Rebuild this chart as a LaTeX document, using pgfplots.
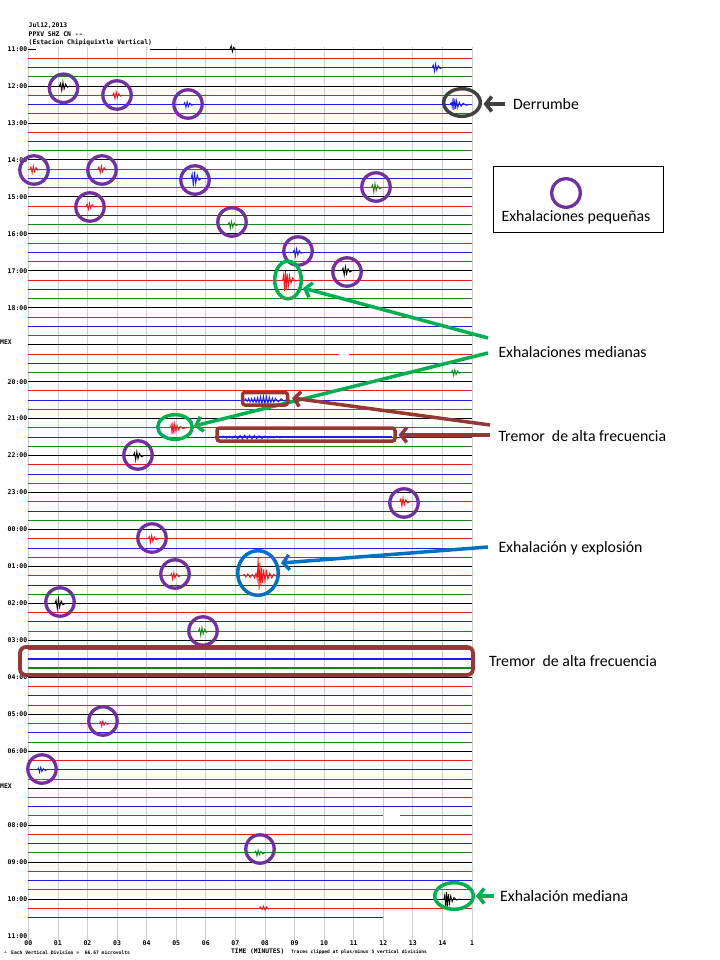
\documentclass[border=0pt]{standalone}
\usepackage{pgfplots}
\pgfplotsset{compat=1.18}
\usepackage{fontspec}
\setmainfont{Carlito}
\newfontfamily\mono{DejaVu Sans Mono}
\usetikzlibrary{arrows.meta}
\definecolor{tred}{RGB}{235,25,25}
\definecolor{tblue}{RGB}{30,30,235}
\definecolor{tgreen}{RGB}{25,130,25}
\definecolor{purp}{RGB}{112,48,160}
\definecolor{ogreen}{RGB}{0,176,80}
\definecolor{oblue}{RGB}{0,112,192}
\definecolor{obrown}{RGB}{149,55,53}
\definecolor{ogray}{RGB}{64,64,64}
\begin{document}
\begin{tikzpicture}
\useasboundingbox (0,0) rectangle (720bp,-960bp);
\begin{axis}[
  at={(28.3bp,-940bp)}, anchor=south west,
  width=443.7bp, height=893bp, scale only axis,
  xmin=0, xmax=15, ymin=-96.43, ymax=0.22,
  axis line style={draw=none},
  major tick length=0pt,
  xtick={0,1,...,15},
  xticklabels={00,01,02,03,04,05,06,07,08,09,10,11,12,13,14,1},
  ytick={0,-4,...,-96},
  yticklabels={11:00,12:00,13:00,14:00,15:00,16:00,17:00,18:00,{},20:00,21:00,22:00,23:00,00:00,01:00,02:00,03:00,04:00,05:00,06:00,{},08:00,09:00,10:00,11:00},
  xmajorgrids, grid style={draw=gray!40, line width=0.7bp},
  ticklabel style={font=\mono\bfseries\fontsize{6.5bp}{7bp}\selectfont},
  xticklabel style={inner sep=0.5bp},
  yticklabel style={inner sep=0.8bp},
  unbounded coords=jump,
  clip=false,
  every axis plot/.append style={line width=0.85bp, mark=none},
]
% ---- base traces ----
\addplot[black] coordinates {(0,0) (0.25,0) (nan,nan) (4.1,0) (15,0) (nan,nan)
(0,-4) (15,-4) (nan,nan) (0,-8) (15,-8) (nan,nan) (0,-12) (15,-12) (nan,nan) (0,-16) (15,-16) (nan,nan)
(0,-20) (15,-20) (nan,nan) (0,-24) (15,-24) (nan,nan) (0,-28) (15,-28) (nan,nan) (0,-32) (15,-32) (nan,nan)
(0,-36) (15,-36) (nan,nan) (0,-40) (15,-40) (nan,nan) (0,-44) (15,-44) (nan,nan) (0,-48) (15,-48) (nan,nan)
(0,-52) (15,-52) (nan,nan) (0,-56) (15,-56) (nan,nan) (0,-60) (15,-60) (nan,nan) (0,-64) (15,-64) (nan,nan)
(0,-68) (15,-68) (nan,nan) (0,-72) (15,-72) (nan,nan) (0,-76) (15,-76) (nan,nan) (0,-80) (15,-80) (nan,nan)
(0,-84) (15,-84) (nan,nan) (0,-88) (15,-88) (nan,nan) (0,-92) (15,-92)};
\addplot[tred] coordinates {(0,-1) (15,-1) (nan,nan) (0,-5) (15,-5) (nan,nan) (0,-9) (15,-9) (nan,nan)
(0,-13) (15,-13) (nan,nan) (0,-17) (15,-17) (nan,nan) (0,-21) (15,-21) (nan,nan) (0,-25) (15,-25) (nan,nan)
(0,-29) (15,-29) (nan,nan) (0,-33) (10.5,-33) (nan,nan) (10.85,-33) (15,-33) (nan,nan) (0,-37) (15,-37) (nan,nan)
(0,-41) (15,-41) (nan,nan) (0,-45) (15,-45) (nan,nan) (0,-49) (15,-49) (nan,nan) (0,-53) (15,-53) (nan,nan)
(0,-57) (15,-57) (nan,nan) (0,-61) (15,-61) (nan,nan) (0,-65) (15,-65) (nan,nan) (0,-69) (15,-69) (nan,nan)
(0,-73) (15,-73) (nan,nan) (0,-77) (15,-77) (nan,nan) (0,-81) (15,-81) (nan,nan) (0,-85) (15,-85) (nan,nan)
(0,-89) (15,-89) (nan,nan) (0,-93) (15,-93)};
\addplot[tblue] coordinates {(0,-2) (15,-2) (nan,nan) (0,-6) (15,-6) (nan,nan) (0,-10) (15,-10) (nan,nan)
(0,-14) (15,-14) (nan,nan) (0,-18) (15,-18) (nan,nan) (0,-22) (15,-22) (nan,nan) (0,-26) (15,-26) (nan,nan)
(0,-30) (15,-30) (nan,nan) (0,-34) (15,-34) (nan,nan) (0,-38) (15,-38) (nan,nan) (0,-42) (15,-42) (nan,nan)
(0,-46) (15,-46) (nan,nan) (0,-50) (15,-50) (nan,nan) (0,-54) (15,-54) (nan,nan) (0,-58) (15,-58) (nan,nan)
(0,-62) (15,-62) (nan,nan) (0,-70) (15,-70) (nan,nan) (0,-74) (15,-74) (nan,nan) (0,-78) (15,-78) (nan,nan)
(0,-82) (15,-82) (nan,nan) (0,-86) (15,-86) (nan,nan) (0,-90) (15,-90) (nan,nan) (0,-94) (12,-94)};
\addplot[tgreen] coordinates {(0,-3) (15,-3) (nan,nan) (0,-7) (15,-7) (nan,nan) (0,-11) (15,-11) (nan,nan)
(0,-15) (15,-15) (nan,nan) (0,-19) (15,-19) (nan,nan) (0,-23) (15,-23) (nan,nan) (0,-27) (15,-27) (nan,nan)
(0,-31) (15,-31) (nan,nan) (0,-35) (15,-35) (nan,nan) (0,-39) (15,-39) (nan,nan) (0,-43) (15,-43) (nan,nan)
(0,-47) (15,-47) (nan,nan) (0,-51) (15,-51) (nan,nan) (0,-55) (15,-55) (nan,nan) (0,-59) (15,-59) (nan,nan)
(0,-63) (15,-63) (nan,nan) (0,-71) (15,-71) (nan,nan) (0,-75) (15,-75) (nan,nan) (0,-79) (15,-79) (nan,nan)
(0,-83) (12,-83) (nan,nan) (12.55,-83) (15,-83) (nan,nan) (0,-87) (15,-87) (nan,nan) (0,-91) (15,-91)};
% tremor traces (thicker)
\addplot[tblue, line width=1.5bp] coordinates {(0,-66) (15,-66)};
\addplot[tgreen, line width=1.6bp] coordinates {(0,-67) (15,-67)};
\addplot[tblue, line width=1.4bp] coordinates {(6.3,-42) (12.3,-42)};
% ---- small exhalations ----
\addplot[black] coordinates {(1.05,-4) (1.09,-3.7) (1.13,-4.5) (1.17,-3.55) (1.21,-4.35) (1.26,-3.78) (1.32,-4.13) (1.40,-4)};
\addplot[tred] coordinates {(2.85,-5) (2.89,-4.76) (2.93,-5.4) (2.97,-4.64) (3.01,-5.28) (3.06,-4.82) (3.12,-5.1) (3.20,-5)};
\addplot[tblue] coordinates {(5.25,-6) (5.29,-5.79) (5.33,-6.35) (5.37,-5.69) (5.41,-6.25) (5.46,-5.84) (5.52,-6.09) (5.60,-6)};
\addplot[tred] coordinates {(0.05,-13) (0.09,-12.76) (0.13,-13.4) (0.17,-12.64) (0.21,-13.28) (0.26,-12.82) (0.32,-13.1) (0.40,-13)};
\addplot[tred] coordinates {(2.35,-13) (2.39,-12.76) (2.43,-13.4) (2.47,-12.64) (2.51,-13.28) (2.56,-12.82) (2.62,-13.1) (2.70,-13)};
\addplot[tblue] coordinates {(5.5,-14) (5.54,-13.49) (5.58,-14.85) (5.62,-13.24) (5.66,-14.6) (5.71,-13.62) (5.77,-14.21) (5.85,-14)};
\addplot[tgreen] coordinates {(11.6,-15) (11.64,-14.7) (11.68,-15.5) (11.72,-14.55) (11.76,-15.35) (11.81,-14.78) (11.87,-15.13) (11.95,-15)};
\addplot[tred] coordinates {(1.95,-17) (1.99,-16.79) (2.03,-17.35) (2.07,-16.69) (2.11,-17.25) (2.16,-16.84) (2.22,-17.09) (2.30,-17)};
\addplot[tgreen] coordinates {(6.75,-19) (6.79,-18.76) (6.83,-19.4) (6.87,-18.64) (6.91,-19.28) (6.96,-18.82) (7.02,-19.1) (7.10,-19)};
\addplot[tblue] coordinates {(8.95,-22) (8.99,-21.73) (9.03,-22.45) (9.07,-21.6) (9.11,-22.32) (9.16,-21.8) (9.22,-22.11) (9.30,-22)};
\addplot[black] coordinates {(10.6,-24) (10.64,-23.7) (10.68,-24.5) (10.72,-23.55) (10.76,-24.35) (10.81,-23.78) (10.87,-24.13) (10.95,-24)};
\addplot[black] coordinates {(3.55,-44) (3.59,-43.7) (3.63,-44.5) (3.67,-43.55) (3.71,-44.35) (3.76,-43.78) (3.82,-44.13) (3.90,-44)};
\addplot[tred] coordinates {(12.55,-49) (12.59,-48.7) (12.63,-49.5) (12.67,-48.55) (12.71,-49.35) (12.76,-48.78) (12.82,-49.13) (12.90,-49)};
\addplot[tred] coordinates {(4.05,-53) (4.09,-52.76) (4.13,-53.4) (4.17,-52.64) (4.21,-53.28) (4.26,-52.82) (4.32,-53.1) (4.40,-53)};
\addplot[tred] coordinates {(4.8,-57) (4.84,-56.76) (4.88,-57.4) (4.92,-56.64) (4.96,-57.28) (5.01,-56.82) (5.07,-57.1) (5.15,-57)};
\addplot[black] coordinates {(0.9,-60) (0.94,-59.64) (0.98,-60.6) (1.02,-59.46) (1.06,-60.42) (1.11,-59.73) (1.17,-60.15) (1.25,-60)};
\addplot[tgreen] coordinates {(5.75,-63) (5.79,-62.7) (5.83,-63.5) (5.87,-62.55) (5.91,-63.35) (5.96,-62.78) (6.02,-63.13) (6.10,-63)};
\addplot[tred] coordinates {(2.4,-73) (2.44,-72.82) (2.48,-73.3) (2.52,-72.73) (2.56,-73.21) (2.61,-72.87) (2.67,-73.08) (2.75,-73)};
\addplot[tblue] coordinates {(0.3,-78) (0.34,-77.82) (0.38,-78.3) (0.42,-77.73) (0.46,-78.21) (0.51,-77.87) (0.57,-78.08) (0.65,-78)};
\addplot[tgreen] coordinates {(7.65,-87) (7.69,-86.79) (7.73,-87.35) (7.77,-86.69) (7.81,-87.25) (7.86,-86.84) (7.92,-87.09) (8.00,-87)};
% other minor signals
\addplot[black] coordinates {(6.82,0) (6.86,0.35) (6.9,-0.3) (6.94,0.2) (6.99,0)};
\addplot[tblue] coordinates {(13.65,-2) (13.69,-1.73) (13.73,-2.45) (13.77,-1.6) (13.81,-2.32) (13.86,-1.8) (13.92,-2.11) (14.0,-2)};
\addplot[tgreen] coordinates {(14.3,-35) (14.34,-34.79) (14.38,-35.35) (14.42,-34.69) (14.46,-35.25) (14.51,-34.84) (14.57,-35.09) (14.65,-35)};
\addplot[tred] coordinates {(7.8,-93) (7.85,-92.85) (7.9,-93.15) (7.95,-92.75) (8.0,-93.2) (8.05,-92.85) (8.12,-93.08) (8.2,-93)};
% ---- medium exhalations ----
\addplot[tred] coordinates {(8.6,-25) (8.63,-24.4) (8.66,-26.2) (8.69,-23.98) (8.72,-26.08) (8.75,-24.28) (8.79,-25.66) (8.83,-24.52) (8.88,-25.36) (8.94,-24.76) (9.02,-25.12) (9.15,-25)};
\addplot[tred] coordinates {(4.8,-41) (4.83,-40.65) (4.86,-41.7) (4.89,-40.41) (4.92,-41.63) (4.95,-40.58) (4.99,-41.39) (5.03,-40.72) (5.08,-41.21) (5.14,-40.86) (5.22,-41.07) (5.35,-41)};
\addplot[black] coordinates {(14.05,-92) (14.08,-91.55) (14.11,-92.9) (14.14,-91.24) (14.17,-92.81) (14.2,-91.46) (14.24,-92.5) (14.28,-91.64) (14.33,-92.27) (14.39,-91.82) (14.47,-92.09) (14.6,-92)};
% ---- exhalation and explosion ----
\addplot[tred] coordinates {(7.25,-57) (7.3,-56.85) (7.35,-57.15) (7.42,-56.8) (7.5,-57.2) (7.58,-56.85) (7.65,-57.25) (7.7,-56.7) (7.74,-57.4) (7.77,-55.0) (7.8,-58.5) (7.83,-55.6) (7.86,-58.1) (7.89,-56.1) (7.92,-57.8) (7.96,-56.3) (8.0,-57.6) (8.05,-56.5) (8.1,-57.4) (8.16,-56.7) (8.23,-57.25) (8.3,-56.85) (8.4,-57.1) (8.5,-57)};
% ---- rockfall ----
\addplot[tblue] coordinates {(14.25,-6) (14.3,-5.8) (14.33,-6.3) (14.36,-5.3) (14.39,-6.6) (14.42,-5.4) (14.45,-6.5) (14.48,-5.6) (14.52,-6.35) (14.57,-5.75) (14.63,-6.2) (14.7,-5.85) (14.8,-6.1) (14.9,-6)};
% ---- high-frequency tremor ----
\addplot[tblue] coordinates {(7.3,-38) (7.35,-37.85) (7.4,-38.15) (7.45,-37.8) (7.5,-38.2) (7.55,-37.8) (7.6,-38.25) (7.65,-37.75) (7.7,-38.3) (7.75,-37.7) (7.8,-38.35) (7.85,-37.6) (7.9,-38.45) (7.95,-37.55) (8.0,-38.45) (8.05,-37.6) (8.1,-38.4) (8.15,-37.65) (8.2,-38.3) (8.25,-37.75) (8.3,-38.25) (8.35,-37.8) (8.45,-38.2) (8.55,-37.85) (8.65,-38.12) (8.75,-37.9) (8.85,-38)};
\addplot[tblue] coordinates {(6.5,-42) (6.6,-41.88) (6.7,-42.12) (6.8,-41.9) (6.9,-42.12) (7.0,-41.85) (7.08,-42.2) (7.16,-41.8) (7.24,-42.22) (7.32,-41.78) (7.4,-42.2) (7.48,-41.8) (7.56,-42.2) (7.64,-41.82) (7.72,-42.18) (7.8,-41.85) (7.9,-42.15) (8.0,-41.88) (8.1,-42.12) (8.2,-41.9) (8.3,-42.1) (8.4,-41.9) (8.5,-42.08) (8.6,-42)};
\end{axis}
% ---------- annotations (pixel coordinates) ----------
\begin{scope}[x=1bp,y=-1bp]
\tikzset{hdr/.style={font=\mono\bfseries\fontsize{6.4bp}{7bp}\selectfont, inner sep=0pt, anchor=west},
 ann/.style={font=\fontsize{15.8bp}{17bp}\selectfont, inner sep=0pt, anchor=west},
 oarr/.style={line width=3.5bp, -{Straight Barb[length=6bp,width=15bp]}}}
\node[hdr] at (28.5,25.5) {Jul12,2013};
\node[hdr] at (28.5,34.2) {PPXV SHZ CN --};
\node[hdr] at (28.5,42.6) {(Estacion Chipiquixtle Vertical)};
\node[hdr] at (0,342.5) {MEX};
\node[hdr] at (0,786.5) {MEX};
\node[font=\mono\bfseries\fontsize{4.8bp}{5bp}\selectfont, inner sep=0pt, anchor=west] at (4,953.5) {\textasciicircum};
\node[font=\mono\bfseries\fontsize{4.7bp}{5bp}\selectfont, inner sep=0pt, anchor=west] at (11,952.5) {Each Vertical Division =\ \ 66.67 microvolts};
\node[font=\mono\bfseries\fontsize{6.3bp}{7bp}\selectfont, inner sep=0pt, anchor=west] at (231,952) {TIME (MINUTES)};
\node[font=\mono\bfseries\fontsize{4.6bp}{5bp}\selectfont, inner sep=0pt, anchor=west] at (291,952.5) {Traces clipped at plus/minus 5 vertical divisions};
% purple circles
\foreach \cx/\cy in {63.5/88.3, 117/95, 188/104, 34/170, 102/170, 195/180, 376/187, 90/207, 232/222, 298/251, 347/272, 138/455, 404/503, 152/538, 175/574, 60/602, 203/631, 103/721, 42/769, 260/849}
  \draw[purp, line width=3.3bp] (\cx,\cy) circle[radius=14.2];
% rockfall
\draw[ogray, line width=3.5bp] (462,102.5) ellipse[x radius=18.3, y radius=13.8];
\draw[ogray, oarr] (505,104) -- (483.5,104);
\node[ann] at (513,104) {Derrumbe};
% legend box
\draw[black, line width=0.8bp] (493,166) rectangle (663,232);
\draw[purp, line width=3.3bp] (566,193) circle[radius=14.3];
\node[ann, anchor=center] at (576,217.7) {Exhalaciones pequeñas};
% green ellipses
\draw[ogreen, line width=3.5bp] (288,280) ellipse[x radius=13.3, y radius=18.8];
\draw[ogreen, line width=3.5bp] (175,427) ellipse[x radius=17.3, y radius=12.3];
\draw[ogreen, line width=3.5bp] (454,896) ellipse[x radius=19.3, y radius=13.3];
\draw[ogreen, oarr] (488,338) -- (303,288);
\draw[ogreen, oarr] (488,353) -- (194,426);
\draw[ogreen, oarr] (494,896) -- (476,896);
\node[ann] at (498.3,351.7) {Exhalaciones medianas};
\node[ann] at (500,896) {Exhalación mediana};
% blue circle
\draw[oblue, line width=3.5bp] (258,573) ellipse[x radius=20.3, y radius=22.3];
\draw[oblue, oarr] (488,547) -- (281,563);
\node[ann] at (498.3,548.3) {Exhalación y explosión};
% brown rectangles
\draw[obrown, line width=3.5bp, rounded corners=2.5bp] (242.5,392.5) rectangle (287.5,405);
\draw[obrown, line width=3.5bp, rounded corners=2.5bp] (217,428) rectangle (395,441);
\draw[obrown, line width=3.8bp, rounded corners=6bp] (20,647) rectangle (473,675);
\draw[obrown, oarr] (490,425) -- (292,398);
\draw[obrown, oarr] (490,435) -- (398.5,435);
\node[ann] at (498.3,436) {Tremor\ \ de alta frecuencia};
\node[ann] at (489,661) {Tremor\ \ de alta frecuencia};
\end{scope}
\end{tikzpicture}
\end{document}
